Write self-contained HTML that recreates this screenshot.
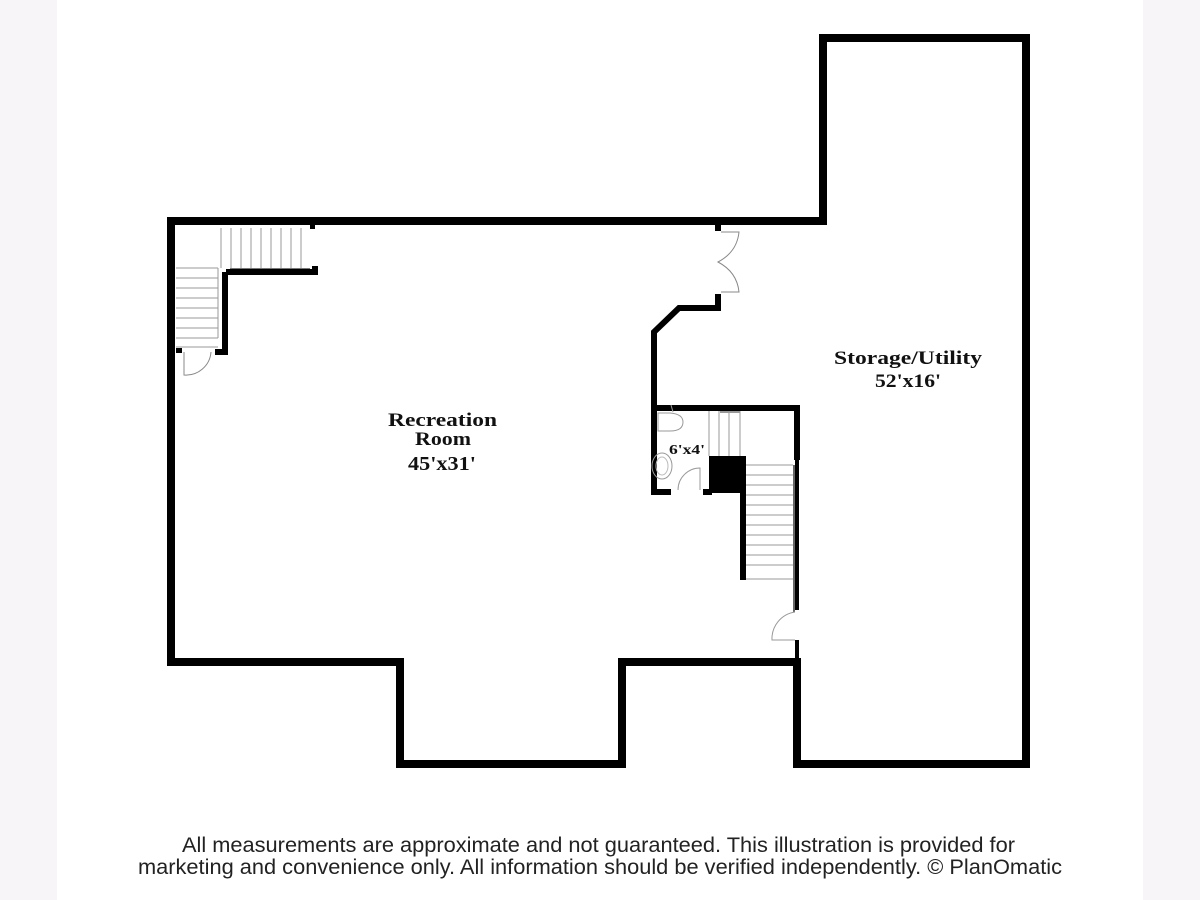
<!DOCTYPE html>
<html><head><meta charset="utf-8"><style>
html,body{margin:0;padding:0;background:#f7f5f8;}
svg{display:block}
</style></head><body>
<svg width="1200" height="900" viewBox="0 0 1200 900" xmlns="http://www.w3.org/2000/svg">
<rect x="0" y="0" width="1200" height="900" fill="#f7f5f8"/>
<rect x="57" y="0" width="1086" height="900" fill="#ffffff"/>
<polygon points="171,221 823,221 823,38 1026,38 1026,764 797,764 797,662 622,662 622,764 400,764 400,662 171,662" fill="none" stroke="#000" stroke-width="8" stroke-linejoin="miter"/>
<rect x="218" y="226" width="95" height="44" fill="#fff"/>
<g stroke="#999" stroke-width="1">
<line x1="221" y1="228" x2="221" y2="268"/><line x1="231" y1="228" x2="231" y2="268"/><line x1="241" y1="228" x2="241" y2="268"/><line x1="251" y1="228" x2="251" y2="268"/><line x1="261" y1="228" x2="261" y2="268"/><line x1="271" y1="228" x2="271" y2="268"/><line x1="281" y1="228" x2="281" y2="268"/><line x1="291" y1="228" x2="291" y2="268"/><line x1="301" y1="228" x2="301" y2="268"/>
<line x1="176" y1="268" x2="218" y2="268"/><line x1="176" y1="278" x2="218" y2="278"/><line x1="176" y1="288" x2="218" y2="288"/><line x1="176" y1="298" x2="218" y2="298"/><line x1="176" y1="308" x2="218" y2="308"/><line x1="176" y1="318" x2="218" y2="318"/><line x1="176" y1="328" x2="218" y2="328"/><line x1="176" y1="338" x2="218" y2="338"/><line x1="176" y1="347" x2="218" y2="347"/>
<line x1="218" y1="268" x2="218" y2="338"/>
<line x1="230" y1="269" x2="310" y2="269" stroke="#777" stroke-width="2"/>
</g>
<rect x="310" y="221" width="5" height="8" fill="#000"/>
<path d="M226,272 H315 V266 M225,272 V352 H215" fill="none" stroke="#000" stroke-width="6"/>
<rect x="176" y="348" width="6" height="5" fill="#000"/>
<path d="M184,352 V375 A25,25 0 0 0 211,352" fill="none" stroke="#888" stroke-width="1"/>
<path d="M654,492 V332 L679,308 H718 V294" fill="none" stroke="#000" stroke-width="6"/>
<rect x="715" y="221" width="6" height="10" fill="#000"/>
<path d="M721,232 H739 Q737,252 718,262 Q737,272 739,292 H721" fill="none" stroke="#888" stroke-width="1"/>
<path d="M654,408 H797 V460" fill="none" stroke="#000" stroke-width="6"/>
<path d="M651,492 H671 M703,492 H712" fill="none" stroke="#000" stroke-width="6"/>
<rect x="709" y="456" width="35" height="37" fill="#000"/>
<rect x="740" y="456" width="6" height="124" fill="#000"/>
<path d="M671,405 L673,412 M658,413 H670 Q683,414 683,422 Q683,431 670,431 H658 Z" fill="none" stroke="#999" stroke-width="1"/>
<ellipse cx="662" cy="466" rx="10" ry="13" fill="none" stroke="#999"/>
<ellipse cx="662" cy="466" rx="6" ry="9" fill="none" stroke="#bbb"/>
<path d="M678,490 A22,22 0 0 1 700,468 V490" fill="none" stroke="#999" stroke-width="1"/>
<g stroke="#999" stroke-width="1">
<line x1="709" y1="411" x2="709" y2="456"/><line x1="719" y1="411" x2="719" y2="456"/><line x1="729" y1="411" x2="729" y2="456"/><line x1="740" y1="411" x2="740" y2="456"/><line x1="720" y1="412" x2="740" y2="412" stroke-width="2"/>
<line x1="746" y1="465" x2="793" y2="465"/><line x1="746" y1="475" x2="793" y2="475"/><line x1="746" y1="485" x2="793" y2="485"/><line x1="746" y1="495" x2="793" y2="495"/><line x1="746" y1="505" x2="793" y2="505"/><line x1="746" y1="515" x2="793" y2="515"/><line x1="746" y1="525" x2="793" y2="525"/><line x1="746" y1="535" x2="793" y2="535"/><line x1="746" y1="545" x2="793" y2="545"/><line x1="746" y1="555" x2="793" y2="555"/><line x1="746" y1="565" x2="793" y2="565"/><line x1="746" y1="579" x2="793" y2="579"/>
<line x1="794" y1="465" x2="794" y2="612" stroke="#666" stroke-width="2"/>
</g>
<rect x="795" y="460" width="4" height="150" fill="#000"/>
<rect x="795" y="640" width="4" height="20" fill="#000"/>
<path d="M795,612 A27,27 0 0 0 772,640 H795" fill="none" stroke="#999" stroke-width="1"/>
<g font-family="'Liberation Serif',serif" font-weight="bold" fill="#111">
<text x="388" y="426" font-size="19" textLength="109" lengthAdjust="spacingAndGlyphs">Recreation</text>
<text x="415" y="445" font-size="19" textLength="56" lengthAdjust="spacingAndGlyphs">Room</text>
<text x="408" y="470" font-size="20" textLength="68" lengthAdjust="spacingAndGlyphs">45'x31'</text>
<text x="834" y="364" font-size="19" textLength="148" lengthAdjust="spacingAndGlyphs">Storage/Utility</text>
<text x="875" y="387" font-size="19" textLength="66" lengthAdjust="spacingAndGlyphs">52'x16'</text>
<text x="669" y="454" font-size="14" textLength="36" lengthAdjust="spacingAndGlyphs">6'x4'</text>
</g>
<g font-family="'Liberation Sans',sans-serif" font-size="21" fill="#222">
<text x="182" y="852" textLength="833" lengthAdjust="spacingAndGlyphs">All measurements are approximate and not guaranteed. This illustration is provided for</text>
<text x="138" y="874" textLength="924" lengthAdjust="spacingAndGlyphs">marketing and convenience only. All information should be verified independently. © PlanOmatic</text>
</g>
</svg>
</body></html>
